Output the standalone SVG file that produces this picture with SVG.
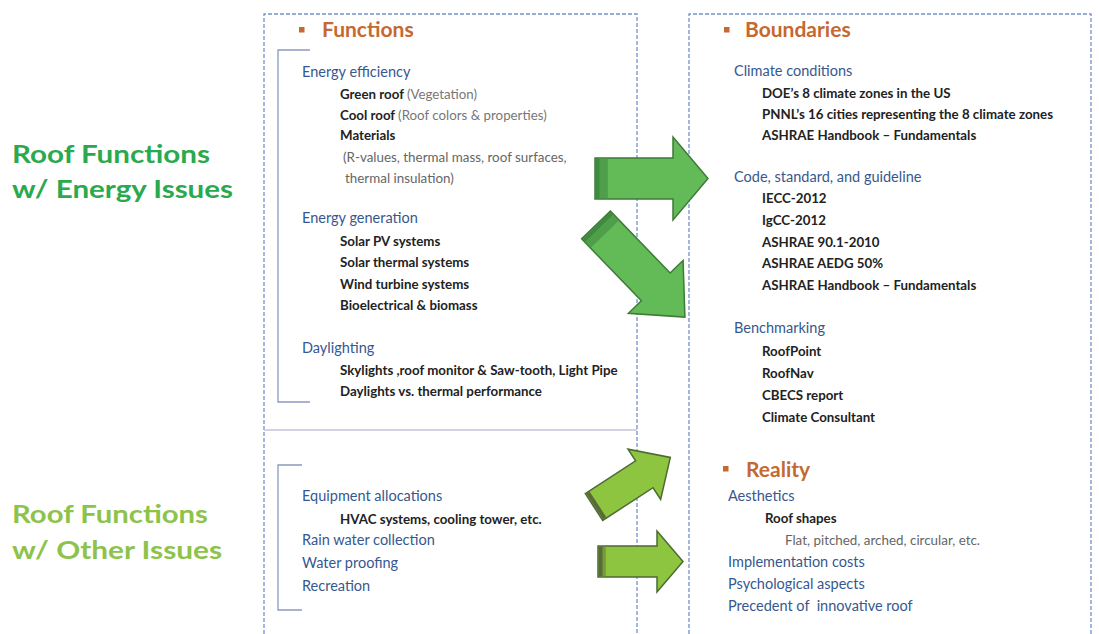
<svg xmlns="http://www.w3.org/2000/svg" width="1099" height="634" viewBox="0 0 1099 634">
<style>
text{font-family:Lato,"Open Sans","Liberation Sans",sans-serif;}
.box{fill:none;stroke:#7392cc;stroke-width:1.3;stroke-dasharray:4 2;}
.sep{stroke:#c2c4dc;stroke-width:1.3;}
.brk{fill:none;stroke:#8a9bbf;stroke-width:1.3;}
.hd{font-size:21px;fill:#c4692f;font-weight:bold;}
.bul{fill:#c4692f;}
.sub{font-size:14.5px;fill:#36588f;}
.it{font-size:13.3px;fill:#222;font-weight:bold;}
.gr{font-weight:normal;fill:#777;}
.gry{font-size:13.4px;fill:#666;}
.lab1{font-size:24px;font-weight:bold;fill:#2aa94f;}
.lab2{font-size:24px;font-weight:bold;fill:#8dc34b;}
.a1{fill:#63bb58;stroke:#3f7a3a;stroke-width:1.5;}
.a2{fill:#8dc540;stroke:#4d6a33;stroke-width:1.5;}
.band1{fill:#3e8a3e;}
.band2{fill:#5a6a3a;}
</style>
<rect width="1099" height="634" fill="#ffffff"/>

<g id="label-energy">
<text class="lab1" x="12" y="163" textLength="198" lengthAdjust="spacingAndGlyphs">Roof Functions</text>
<text class="lab1" x="12" y="198" textLength="221" lengthAdjust="spacingAndGlyphs">w/ Energy Issues</text>
</g>
<g id="label-other">
<text class="lab2" x="12" y="523" textLength="196" lengthAdjust="spacingAndGlyphs">Roof Functions</text>
<text class="lab2" x="12" y="559" textLength="210" lengthAdjust="spacingAndGlyphs">w/ Other Issues</text>
</g>

<g id="functions-panel">
<path class="box" d="M264,634 V14 H637 V634"/>
<line class="sep" x1="264" y1="430" x2="637" y2="430"/>
<path class="brk" d="M310,50 H278 V402 H310"/>
<rect class="bul" x="299" y="27" width="5.5" height="5.5"/>
<text class="hd" x="322" y="37">Functions</text>
<text class="sub" x="302" y="77">Energy efficiency</text>
<text class="it" x="340" y="99">Green roof <tspan class="gr">(Vegetation)</tspan></text>
<text class="it" x="340" y="120">Cool roof <tspan class="gr">(Roof colors &amp; properties)</tspan></text>
<text class="it" x="340" y="140">Materials</text>
<text class="gry" x="343" y="162">(R-values, thermal mass, roof surfaces,</text>
<text class="gry" x="345" y="183">thermal insulation)</text>
<text class="sub" x="302" y="223">Energy generation</text>
<text class="it" x="340" y="246">Solar PV systems</text>
<text class="it" x="340" y="267">Solar thermal systems</text>
<text class="it" x="340" y="289">Wind turbine systems</text>
<text class="it" x="340" y="310">Bioelectrical &amp; biomass</text>
<text class="sub" x="302" y="353">Daylighting</text>
<text class="it" x="340" y="375">Skylights ,roof monitor &amp; Saw-tooth, Light Pipe</text>
<text class="it" x="340" y="396">Daylights vs. thermal performance</text>
</g>

<g id="other-panel">
<path class="brk" d="M302,465 H278 V610 H302"/>
<text class="sub" x="302" y="501">Equipment allocations</text>
<text class="it" x="340" y="524">HVAC systems, cooling tower, etc.</text>
<text class="sub" x="302" y="545">Rain water collection</text>
<text class="sub" x="302" y="568">Water proofing</text>
<text class="sub" x="302" y="591">Recreation</text>
</g>

<g id="boundaries-panel">
<path class="box" d="M689,634 V14 H1091 V634"/>
<rect class="bul" x="724" y="27" width="5.5" height="5.5"/>
<text class="hd" x="745" y="37">Boundaries</text>
<text class="sub" x="734" y="76">Climate conditions</text>
<text class="it" x="762" y="98">DOE’s 8 climate zones in the US</text>
<text class="it" x="762" y="119">PNNL’s 16 cities representing the 8 climate zones</text>
<text class="it" x="762" y="140">ASHRAE Handbook – Fundamentals</text>
<text class="sub" x="734" y="182">Code, standard, and guideline</text>
<text class="it" x="762" y="203">IECC-2012</text>
<text class="it" x="762" y="225">IgCC-2012</text>
<text class="it" x="762" y="247">ASHRAE 90.1-2010</text>
<text class="it" x="762" y="268">ASHRAE AEDG 50%</text>
<text class="it" x="762" y="290">ASHRAE Handbook – Fundamentals</text>
<text class="sub" x="734" y="333">Benchmarking</text>
<text class="it" x="762" y="356">RoofPoint</text>
<text class="it" x="762" y="378">RoofNav</text>
<text class="it" x="762" y="400">CBECS report</text>
<text class="it" x="762" y="422">Climate Consultant</text>
</g>

<g id="reality-panel">
<rect class="bul" x="723" y="466" width="5.5" height="5.5"/>
<text class="hd" x="746" y="477">Reality</text>
<text class="sub" x="728" y="501">Aesthetics</text>
<text class="it" x="765" y="523">Roof shapes</text>
<text class="gry" x="785" y="545">Flat, pitched, arched, circular, etc.</text>
<text class="sub" x="728" y="567">Implementation costs</text>
<text class="sub" x="728" y="589">Psychological aspects</text>
<text class="sub" x="728" y="611" xml:space="preserve">Precedent of  innovative roof</text>
</g>

<g id="connectors">
<g transform="translate(595,178.5)">
<path class="a1" d="M0,-20.5 H78 V-41.5 L113,0 L78,41.5 V20.5 H0 Z"/>
<rect class="band1" x="0.8" y="-19.7" width="4" height="39.4"/>
<rect fill="#4f9e4a" x="4.8" y="-19.7" width="8" height="39.4"/>
</g>
<g transform="translate(596,225) rotate(46)">
<path class="a1" d="M0,-20 H86 V-38 L128,0 L86,38 V20 H0 Z"/>
<rect class="band1" x="0.8" y="-19.2" width="4" height="38.4"/>
<rect fill="#4f9e4a" x="4.8" y="-19.2" width="8" height="38.4"/>
</g>
<g transform="translate(594,507) rotate(-33)">
<path class="a2" d="M0,-16 H60 V-30 L91,0 L60,30 V16 H0 Z"/>
<rect class="band2" x="0.8" y="-15.2" width="4" height="30.4"/>
</g>
<g transform="translate(598,561.5)">
<path class="a2" d="M0,-15.5 H59 V-30.5 L85,0 L59,30.5 V15.5 H0 Z"/>
<rect class="band2" x="0.8" y="-14.7" width="4" height="29.4"/>
<rect fill="#7a9a3a" x="4.8" y="-14.7" width="3" height="29.4"/>
</g>
</g>
</svg>
